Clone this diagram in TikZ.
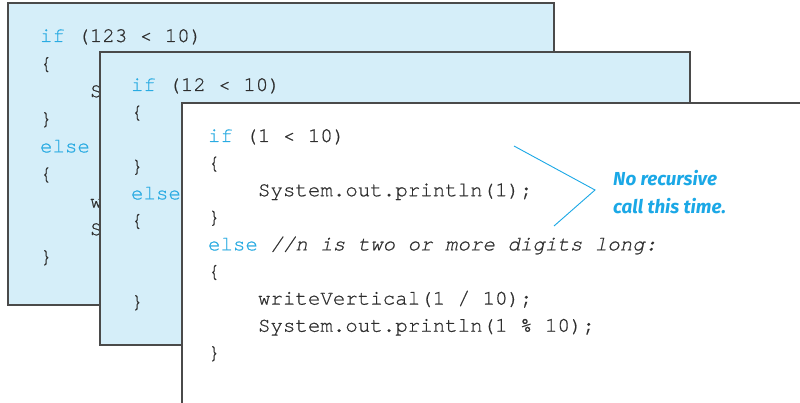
\documentclass[tikz,border=0pt]{standalone}
\usepackage{fontspec}
\setmonofont[FakeBold=0.6]{TeX Gyre Cursor}
\newfontfamily\notefont{Fira Sans}
\definecolor{boxfill}{HTML}{D5EEF9}
\definecolor{boxline}{HTML}{4A4A4A}
\definecolor{codegray}{HTML}{2E2E2E}
\definecolor{kwblue}{HTML}{29ABE2}
\definecolor{noteblue}{HTML}{1BA8E6}
\newcommand{\codefont}{\ttfamily\fontsize{20.8}{27}\selectfont}
\newcommand{\kw}[1]{\textcolor{kwblue}{#1}}
\begin{document}
\begin{tikzpicture}[x=1pt,y=-1pt,
  panel/.style={draw=boxline, line width=1.2pt, anchor=north west, inner sep=0pt, outer sep=0pt},
  code/.style={anchor=base west, inner sep=0pt, outer sep=0pt, font=\codefont, text=codegray},
  note/.style={anchor=base west, inner sep=0pt, font=\notefont\bfseries\itshape\fontsize{18.8}{28}\selectfont, text=noteblue},
  callout/.style={draw=noteblue, line width=0.9pt}]
\clip (0,0) rectangle (800,403);
\fill[white] (0,0) rectangle (800,403);
% box 1
\node[panel, fill=boxfill, minimum width=546pt, minimum height=302pt] (b1) at (8,3) {};
\node[code] (a1) at (40,42) {\kw{if} (123 < 10)};
\node[code] (a2) at (40,69.6) {\{};
\node[code] (a3) at (90,97.2) {S};
\node[code] (a4) at (40,124.8) {\}};
\node[code] (a5) at (40,152.4) {\kw{else}};
\node[code] (a6) at (40,180) {\{};
\node[code] (a7) at (90,207.6) {w};
\node[code] (a8) at (90,235.2) {S};
\node[code] (a9) at (40,262.8) {\}};
% box 2
\node[panel, fill=boxfill, minimum width=590pt, minimum height=293pt] (b2) at (100,52) {};
\node[code] (c1) at (131,91) {\kw{if} (12 < 10)};
\node[code] (c2) at (131,118.1) {\{};
\node[code] (c4) at (131,172.3) {\}};
\node[code] (c5) at (131,199.4) {\kw{else}};
\node[code] (c6) at (131,226.5) {\{};
\node[code] (c9) at (131,307.8) {\}};
% box 3
\node[panel, fill=white, minimum width=700pt, minimum height=400pt] (b3) at (182,103) {};
\node[code] (d1) at (208,142) {\kw{if} (1 < 10)};
\node[code] (d2) at (208,169.1) {\{};
\node[code] (d3) at (258,196.2) {System.out.println(1);};
\node[code] (d4) at (208,223.3) {\}};
\node[code] (d5) at (208,250.4) {\kw{else} {\itshape//n is two or more digits long:}};
\node[code] (d6) at (208,277.5) {\{};
\node[code] (d7) at (258,304.6) {writeVertical(1 / 10);};
\node[code] (d8) at (258,331.7) {System.out.println(1 \% 10);};
\node[code] (d9) at (208,358.8) {\}};
% callout
\coordinate (p1) at (514,146);
\coordinate (p2) at (595,190);
\coordinate (p3) at (554,226);
\draw[callout] (p1) -- (p2) -- (p3);
\node[note] (n1) at (613,186) {No recursive};
\node[note] (n2) at (613,214) {call this time.};
\end{tikzpicture}
\end{document}
